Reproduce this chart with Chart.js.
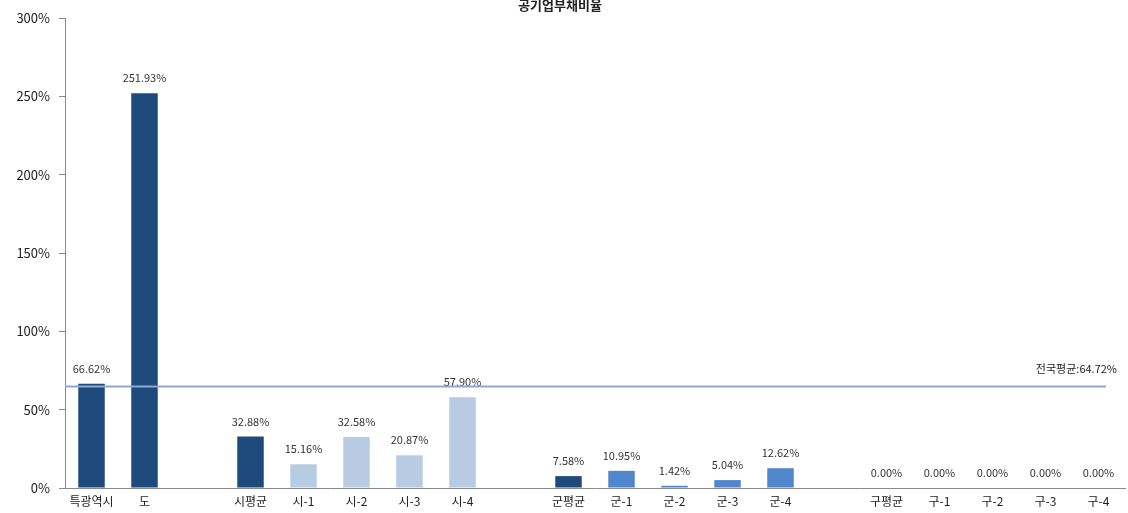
<!DOCTYPE html>
<html><head><meta charset="utf-8">
<script src="https://cdn.jsdelivr.net/npm/chart.js@4/dist/chart.umd.min.js"></script>
<style>html,body{margin:0;padding:0;background:#fff}#wrap{width:1128px;height:513px}</style>
</head><body><div id="wrap"><canvas id="c" width="1128" height="513"></canvas></div>
<script>
const title = '공기업부채비율';
const categories = ['특광역시','도','','시평균','시-1','시-2','시-3','시-4','','군평균','군-1','군-2','군-3','군-4','','구평균','구-1','구-2','구-3','구-4'];
const values = [66.62,251.93,null,32.88,15.16,32.58,20.87,57.90,null,7.58,10.95,1.42,5.04,12.62,null,0,0,0,0,0];
const groups = ['avg','avg','','avg','si','si','si','si','','avg','gun','gun','gun','gun','','avg','gu','gu','gu','gu'];
const nationalAvg = 64.72;
const avgLabel = '전국평균:';
const yTicks = [0,50,100,150,200,250,300];

const colorMap = {avg:'#1f4a7c', si:'#b7cbe3', gun:'#4f86cc', gu:'#4f86cc', '':'#fff'};
const FONT = '"Noto Sans CJK KR", "Noto Sans", sans-serif';

const overlay = {
  id:'overlay',
  afterDatasetsDraw(chart){
    const ctx = chart.ctx, meta = chart.getDatasetMeta(0), y = chart.scales.y;
    ctx.save();
    ctx.font = '11px ' + FONT;
    ctx.fillStyle = '#333';
    ctx.textAlign = 'center'; ctx.textBaseline = 'middle';
    meta.data.forEach((el,i)=>{
      if(values[i]===null) return;
      ctx.fillText(values[i].toFixed(2)+'%', el.x, el.y-15);
    });
    const ay = y.getPixelForValue(nationalAvg);
    ctx.strokeStyle = '#8ea9cf'; ctx.lineWidth = 2;
    ctx.beginPath(); ctx.moveTo(chart.chartArea.left, ay); ctx.lineTo(1106, ay); ctx.stroke();
    ctx.textAlign = 'right';
    ctx.fillStyle = '#222';
    ctx.fillText(avgLabel + nationalAvg.toFixed(2) + '%', 1117, ay-18);
    ctx.font = 'bold 13px ' + FONT;
    ctx.textAlign = 'center';
    ctx.fillText(title, 560, 5);
    ctx.restore();
  }
};

new Chart(document.getElementById('c'), {
  type:'bar',
  data:{labels:categories, datasets:[{data:values, backgroundColor:groups.map(g=>colorMap[g]), barPercentage:0.5, categoryPercentage:1}]},
  options:{
    responsive:false, animation:false,
    layout:{padding:{top:18,right:3,left:0,bottom:0}},
    plugins:{legend:{display:false}, tooltip:{enabled:false}},
    scales:{
      x:{
        grid:{display:false, drawTicks:false},
        border:{display:true, color:'#8a8a8a', width:1},
        ticks:{font:{family:FONT,size:12}, color:'#222', padding:6, maxRotation:0, autoSkip:false},
        afterFit(s){ s.height = 25; }
      },
      y:{
        min:0, max:300,
        grid:{drawOnChartArea:false, drawTicks:true, tickLength:6, color:'#8a8a8a'},
        border:{display:true, color:'#8a8a8a', width:1},
        ticks:{stepSize:50, font:{family:FONT,size:13}, color:'#222', padding:9, callback:v=>v+'%'},
        afterBuildTicks(s){ s.ticks = yTicks.map(v=>({value:v})); },
        afterFit(s){ s.width = 65; }
      }
    }
  },
  plugins:[overlay]
});
</script></body></html>
